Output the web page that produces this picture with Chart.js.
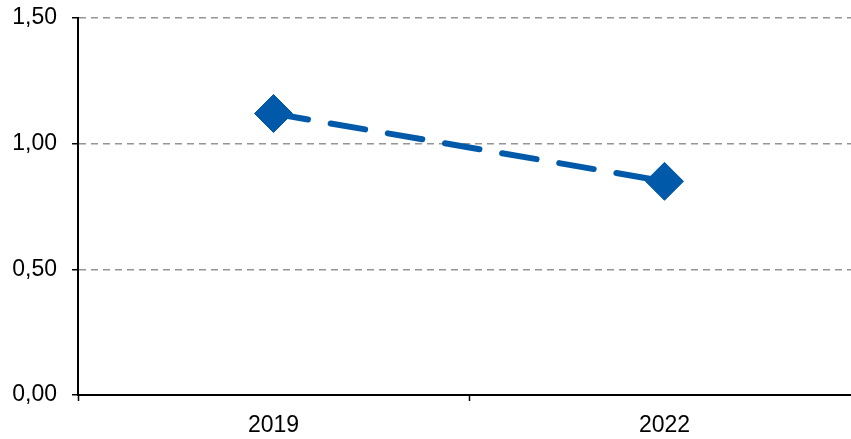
<!DOCTYPE html>
<html>
<head>
<meta charset="utf-8">
<script src="https://cdn.jsdelivr.net/npm/chart.js@4"></script>
<style>
  html, body { margin: 0; padding: 0; overflow: hidden; background: #fff; }
  canvas { display: block; }
</style>
</head>
<body>
<canvas id="chart" width="862" height="439"></canvas>
<script>
// 数据
const years = ['2019', '2022'];
const values = [1.12, 0.85];
const yTicks = [0, 0.5, 1.0, 1.5];

const blue = '#005AA9';
const axisFont = { family: '"Liberation Sans", Arial, sans-serif', size: 23 };

// y轴刻度格式：逗号作为小数点
function fmt(v) {
    return v.toFixed(2).replace('.', ',');
}

const ctx = document.getElementById('chart').getContext('2d');
new Chart(ctx, {
    type: 'line',
    data: {
        labels: years,
        datasets: [{
            data: values,
            borderColor: blue,
            backgroundColor: blue,
            borderWidth: 6,
            borderDash: [35, 23],
            borderCapStyle: 'round',
            pointStyle: 'rectRot',
            pointRadius: 19,
            pointBorderWidth: 1,
            pointBackgroundColor: blue,
            pointBorderColor: blue,
            tension: 0,
            fill: false,
            clip: false
        }]
    },
    options: {
        responsive: false,
        animation: false,
        layout: { autoPadding: false, padding: { top: 18, right: 2, left: 0, bottom: 0 } },
        plugins: {
            legend: { display: false },
            tooltip: { enabled: false }
        },
        scales: {
            x: {
                offset: true,
                grid: {
                    offset: true,
                    drawOnChartArea: false,
                    drawTicks: true,
                    tickLength: 6,
                    tickColor: '#000',
                    tickWidth: 1.5
                },
                border: { display: true, color: '#000', width: 2 },
                ticks: {
                    color: '#000',
                    padding: 11,
                    maxRotation: 0,
                    font: axisFont
                },
                afterFit: s => {
                    s.height = 44;
                    s.paddingLeft = 0;
                    s.paddingRight = 0;
                }
            },
            y: {
                min: 0,
                max: 1.5,
                afterBuildTicks: s => { s.ticks = yTicks.map(v => ({ value: v })); },
                grid: {
                    color: '#959595',
                    lineWidth: 1.5,
                    drawTicks: true,
                    tickLength: 6,
                    tickColor: '#000',
                    tickWidth: 1.5,
                    tickBorderDash: []
                },
                border: { display: true, color: '#000', width: 2, dash: [7, 5] },
                ticks: {
                    color: '#000',
                    padding: 15,
                    callback: v => fmt(v),
                    font: axisFont
                },
                afterFit: s => {
                    s.width = 78;
                    s.paddingTop = 0;
                    s.paddingBottom = 0;
                }
            }
        }
    }
});
</script>
</body>
</html>
